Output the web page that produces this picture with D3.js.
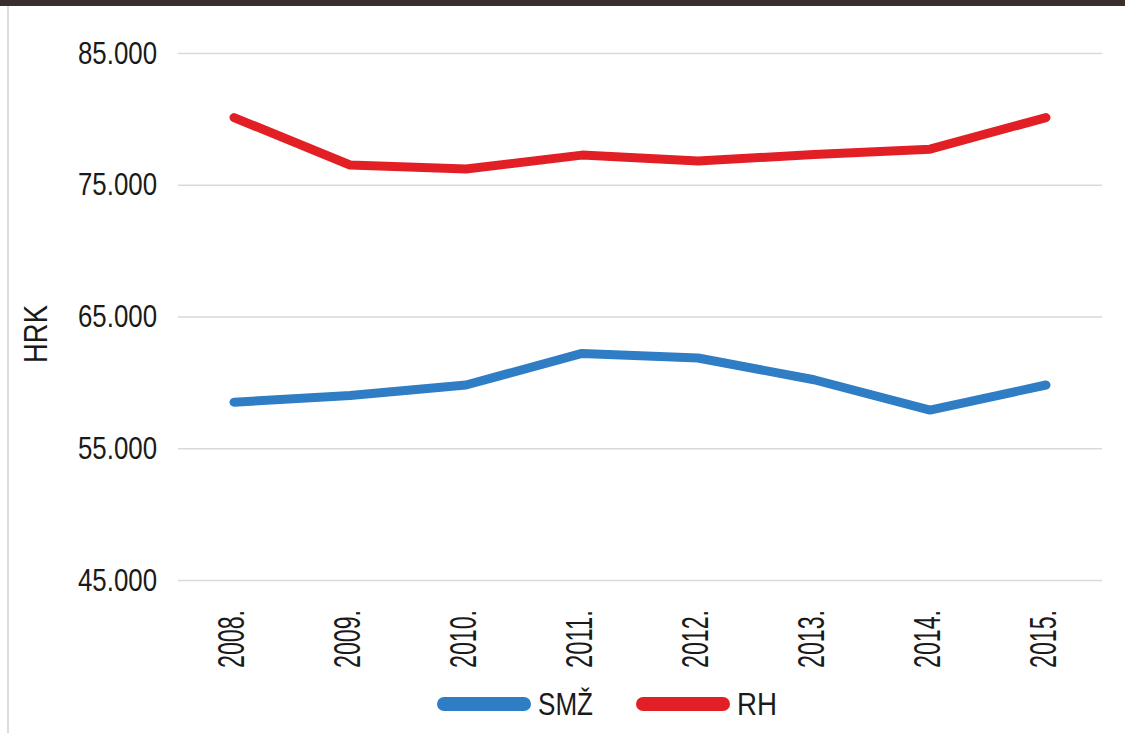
<!DOCTYPE html>
<html>
<head>
<meta charset="utf-8">
<script src="https://cdn.jsdelivr.net/npm/d3@7"></script>
<style>
  body { margin: 0; background: #fff; }
  text { font-family: "Liberation Sans", Arial, sans-serif; fill: #1a1a1a; }
</style>
</head>
<body>
<div id="chart-area"></div>
<script>
// godine i prosjecne place (HRK)
var years = ["2008.", "2009.", "2010.", "2011.", "2012.", "2013.", "2014.", "2015."];
var smz = [58500, 59000, 59800, 62200, 61850, 60200, 57900, 59800];
var rh = [80100, 76500, 76200, 77250, 76800, 77300, 77700, 80100];
var yTicks = [45000, 55000, 65000, 75000, 85000];
var seriesNames = ["SMŽ", "RH"];
var seriesColors = ["#2e7dc5", "#e31f26"];

var width = 1125, height = 733;

var svg = d3.select("#chart-area")
    .append("svg")
        .attr("width", width)
        .attr("height", height);

// okvir
svg.append("rect").attr("x", 0).attr("y", 0).attr("width", width).attr("height", 6).attr("fill", "#3a2f2a");
svg.append("line").attr("x1", 8).attr("x2", 8).attr("y1", 6).attr("y2", height)
    .attr("stroke", "#d0d0d0").attr("stroke-width", 1.5);

var x = d3.scaleBand().domain(years).range([176, 1104]);
var y = d3.scaleLinear().domain([45000, 85000]).range([580, 53]);

var fmt = d3.format(",.0f");

// grid
var yAxis = d3.axisLeft(y).tickValues(yTicks).tickSize(-(1102 - 178)).tickPadding(21)
    .tickFormat(d => fmt(d).replace(/,/g, "."));

var gy = svg.append("g").attr("transform", "translate(178,0)").call(yAxis);
gy.select(".domain").remove();
gy.selectAll(".tick line").attr("stroke", "#d9d9d9").attr("stroke-width", 1.5);
gy.selectAll(".tick text")
    .attr("font-size", 32)
    .attr("dy", 10)
    .attr("textLength", 79).attr("lengthAdjust", "spacingAndGlyphs")
    .attr("fill", "#1a1a1a");

// x labels
var xAxis = d3.axisBottom(x).tickSize(0);
var gx = svg.append("g").call(xAxis);
gx.select(".domain").remove();
gx.selectAll(".tick text")
    .attr("font-size", 36)
    .attr("text-anchor", "start")
    .attr("transform", "translate(10,668) rotate(-90)")
    .attr("x", 0).attr("y", 0).attr("dy", 0)
    .attr("textLength", 58).attr("lengthAdjust", "spacingAndGlyphs")
    .attr("fill", "#1a1a1a");

// HRK
svg.append("text")
    .attr("transform", "translate(47,334) rotate(-90)")
    .attr("text-anchor", "middle")
    .attr("font-size", 33)
    .attr("textLength", 58).attr("lengthAdjust", "spacingAndGlyphs")
    .text("HRK");

// linije
var line = d3.line()
    .x((d, i) => x(years[i]) + x.bandwidth() / 2)
    .y(d => y(d));

[smz, rh].forEach(function(s, k) {
    svg.append("path")
        .datum(s)
        .attr("d", line)
        .attr("fill", "none")
        .attr("stroke", seriesColors[k])
        .attr("stroke-width", 9)
        .attr("stroke-linejoin", "round")
        .attr("stroke-linecap", "round");
});

// legenda
var legX = [438, 637];
var legLen = [55, 40];
seriesNames.forEach(function(n, k) {
    svg.append("line")
        .attr("x1", legX[k] + 6).attr("x2", legX[k] + 86)
        .attr("y1", 704).attr("y2", 704)
        .attr("stroke", seriesColors[k])
        .attr("stroke-width", 14)
        .attr("stroke-linecap", "round");
    svg.append("text")
        .attr("x", legX[k] + 100)
        .attr("y", 715)
        .attr("font-size", 32)
        .attr("textLength", legLen[k]).attr("lengthAdjust", "spacingAndGlyphs")
        .text(n);
});
</script>
</body>
</html>
